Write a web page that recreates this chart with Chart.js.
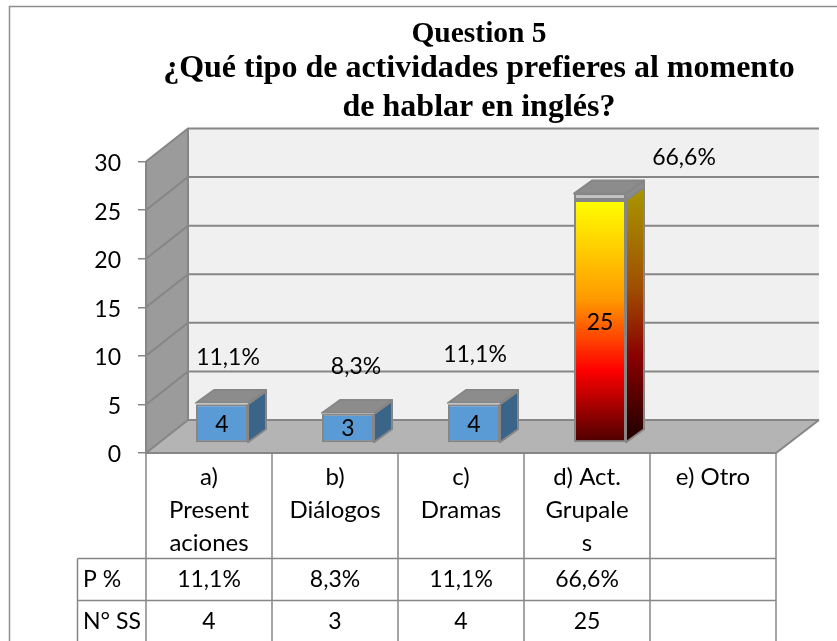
<!DOCTYPE html>
<html><head><meta charset="utf-8">
<style>html,body{margin:0;padding:0;background:#fff}#wrap{position:relative;width:837px;height:641px;overflow:hidden}canvas{display:block}</style>
<script src="https://cdn.jsdelivr.net/npm/chart.js@4/dist/chart.umd.min.js"></script>
</head><body><div id="wrap"><canvas id="c" width="837" height="641"></canvas></div>
<script>
const categories = [["a)","Present","aciones"],["b)","Diálogos"],["c)","Dramas"],["d) Act.","Grupale","s"],["e) Otro"]];
const students = [4,3,4,25,null];
const shares = [0.111,0.083,0.111,0.666,null];
const shareLabels = ["11,1%","8,3%","11,1%","66,6%",""];
const studentLabels = ["4","3","4","25",""];
const yTicks = [0,5,10,15,20,25,30];
const titleLines = ["Question 5","¿Qué tipo de actividades prefieres al momento","de hablar en inglés?"];
const rowHeaders = ["P %","N° SS"];

const FONT = "Lato, Carlito, Calibri, sans-serif";
const TXT = 24, NUM = 23;
const LINE = "#868686";
// 3D layout
const WALL = {dx:42, dy:33};
const BAR = {dx:13, dy:10, sx:18, sy:13};
const LABEL_SHIFT = [[6,-47],[8,-47],[1,-50],[84,-43]];

function poly(ctx, pts, fill, stroke, lw){
  ctx.beginPath(); pts.forEach((p,i)=>i?ctx.lineTo(p[0],p[1]):ctx.moveTo(p[0],p[1])); ctx.closePath();
  if(fill){ctx.fillStyle=fill;ctx.fill();}
  if(stroke){ctx.strokeStyle=stroke;ctx.lineWidth=lw||2;ctx.lineJoin='round';ctx.stroke();}
}
function fire(ctx,top,bottom,dark){
  const g=ctx.createLinearGradient(0,top,0,bottom);
  const s=dark?[[0,'#a89800'],[.41,'#a05000'],[.7,'#8a0000'],[1,'#2c0000']]:[[0,'#ffff00'],[.41,'#ff9900'],[.7,'#ff0000'],[1,'#4a0000']];
  s.forEach(a=>g.addColorStop(a[0],a[1])); return g;
}
const scene = {
  id:'scene',
  beforeDraw(chart){
    const {ctx,scales:{x,y}}=chart;
    const l=x.left,r=x.right,b=y.getPixelForValue(0),t=y.getPixelForValue(30);
    ctx.save();
    ctx.fillStyle='#fff';ctx.fillRect(0,0,837,641);
    ctx.strokeStyle='#8e8e8e';ctx.lineWidth=1.5;
    ctx.beginPath();ctx.moveTo(9.5,641);ctx.lineTo(9.5,6.5);ctx.lineTo(837,6.5);ctx.stroke();
    // back wall, side wall, floor
    poly(ctx,[[l+WALL.dx,t-WALL.dy],[r+WALL.dx+1,t-WALL.dy],[r+WALL.dx+1,b-WALL.dy],[l+WALL.dx,b-WALL.dy]],'#f0f0f0');
    poly(ctx,[[l,t],[l+WALL.dx,t-WALL.dy],[l+WALL.dx,b-WALL.dy],[l,b]],'#9b9b9b');
    poly(ctx,[[l,b],[l+WALL.dx,b-WALL.dy],[r+WALL.dx+1,b-WALL.dy],[r,b]],'#b4b4b4');
    ctx.strokeStyle=LINE;ctx.lineWidth=2;
    yTicks.forEach(v=>{
      const p=y.getPixelForValue(v);
      ctx.beginPath();ctx.moveTo(l,p);ctx.lineTo(l+WALL.dx,p-WALL.dy);ctx.lineTo(r+WALL.dx+1,p-WALL.dy);ctx.stroke();
    });
    ctx.beginPath();ctx.moveTo(l,t);ctx.lineTo(l,b);ctx.lineTo(r,b);ctx.lineTo(r+WALL.dx+1,b-WALL.dy);ctx.stroke();
    ctx.beginPath();ctx.moveTo(l+WALL.dx,t-WALL.dy);ctx.lineTo(l+WALL.dx,b-WALL.dy);ctx.stroke();
    ctx.restore();
  },
  beforeDatasetsDraw(chart){
    const {ctx}=chart;
    ctx.save();
    ctx.translate(BAR.dx,-BAR.dy);
    const m0=chart.getDatasetMeta(0).data,m1=chart.getDatasetMeta(1).data;
    m0.forEach((el,i)=>{
      if(students[i]==null)return;
      const up=m1[i],hw=el.width/2,xr=el.x+hw,xl=el.x-hw,bot=el.base,mid=el.y,top=up.y;
      const {sx,sy}=BAR;
      const side=i===3?fire(ctx,mid-sy,bot-sy,true):'#3a6589';
      poly(ctx,[[xr,bot],[xr+sx,bot-sy],[xr+sx,mid-sy],[xr,mid]],side,LINE,2);
      poly(ctx,[[xr,mid],[xr+sx,mid-sy],[xr+sx,top-sy],[xr,top]],'#8c8c8c',LINE,2);
      poly(ctx,[[xl,top],[xl+sx,top-sy],[xr+sx,top-sy],[xr,top]],'#8c8c8c',LINE,2);
    });
  },
  afterDatasetsDraw(chart){
    const {ctx}=chart;
    const m0=chart.getDatasetMeta(0).data;
    ctx.fillStyle='#000';ctx.font=NUM+'px '+FONT;ctx.textAlign='center';ctx.textBaseline='middle';
    m0.forEach((el,i)=>{
      if(students[i]==null)return;
      ctx.fillText(studentLabels[i],el.x,(el.y+el.base)/2+1);
    });
    ctx.restore();
    ctx.save();
    ctx.fillStyle='#000';ctx.font=NUM+'px '+FONT;ctx.textAlign='center';ctx.textBaseline='middle';
    m0.forEach((el,i)=>{
      if(students[i]==null)return;
      ctx.fillText(shareLabels[i],el.x+BAR.dx+LABEL_SHIFT[i][0],el.y-BAR.dy+LABEL_SHIFT[i][1]);
    });
    ctx.restore();
  },
  afterDraw(chart){
    const {ctx,scales:{x,y}}=chart;
    const b=y.getPixelForValue(0);
    const cw=(x.right-x.left)/categories.length;
    ctx.save();
    ctx.strokeStyle=LINE;ctx.lineWidth=1.5;
    for(let i=0;i<=categories.length;i++){
      const p=x.left+cw*i;
      ctx.beginPath();ctx.moveTo(p,b);ctx.lineTo(p,641);ctx.stroke();
    }
    const r0=558.5,r1=600.5,hl=77.5;
    [r0,r1].forEach(p=>{ctx.beginPath();ctx.moveTo(hl,p);ctx.lineTo(x.right,p);ctx.stroke();});
    ctx.beginPath();ctx.moveTo(hl,r0);ctx.lineTo(hl,641);ctx.stroke();
    ctx.fillStyle='#000';ctx.font=NUM+'px '+FONT;ctx.textBaseline='middle';
    ctx.textAlign='left';
    ctx.fillText(rowHeaders[0],83,580);ctx.fillText(rowHeaders[1],83,622);
    ctx.textAlign='center';
    categories.forEach((_,i)=>{
      const c=x.getPixelForValue(i);
      ctx.fillText(shareLabels[i],c,580);
      ctx.fillText(studentLabels[i],c,622);
    });
    ctx.fillStyle='#000';
    [[34,29.5],[69,32],[108,32]].forEach((p,i)=>{
      ctx.font='bold '+p[1]+'px "Liberation Serif", serif';
      ctx.fillText(titleLines[i],479,p[0]);
    });
    ctx.restore();
  }
};
new Chart(document.getElementById('c'),{
  type:'bar',
  data:{labels:categories,datasets:[
    {label:'N° SS',data:students,stack:'s',clip:false,barPercentage:52/126,categoryPercentage:1,
     backgroundColor:c=>c.dataIndex===3?fire(c.chart.ctx,c.chart.scales.y.getPixelForValue(25),c.chart.scales.y.getPixelForValue(0),false):'#5b9bd5',
     borderColor:LINE,borderWidth:2,borderSkipped:false},
    {label:'P %',data:shares,stack:'s',clip:false,barPercentage:52/126,categoryPercentage:1,backgroundColor:'#c4c4c4',borderColor:LINE,borderWidth:c=>c.dataIndex===3?2:0,borderSkipped:false}
  ]},
  options:{
    responsive:false,animation:false,
    layout:{padding:{left:86,right:61,top:161.5,bottom:0}},
    plugins:{legend:{display:false},tooltip:{enabled:false},title:{display:false}},
    scales:{
      x:{stacked:true,afterFit:s=>{s.height=188;},
         grid:{display:false,drawTicks:false},border:{display:false},
         ticks:{color:'#000',font:{family:FONT,size:TXT,lineHeight:1.375},maxRotation:0,autoSkip:false,padding:8}},
      y:{stacked:true,min:0,max:30,
         afterFit:s=>{s.width=60;},
         grid:{drawOnChartArea:false,drawTicks:true,tickLength:8,color:LINE,lineWidth:1.5},border:{display:false},
         afterBuildTicks:s=>{s.ticks=yTicks.map(v=>({value:v}));},
         ticks:{color:'#000',font:{family:FONT,size:NUM,lineHeight:'4px'},padding:17,callback:v=>['',String(v)]}}
    }
  },
  plugins:[scene]
});
</script></body></html>
